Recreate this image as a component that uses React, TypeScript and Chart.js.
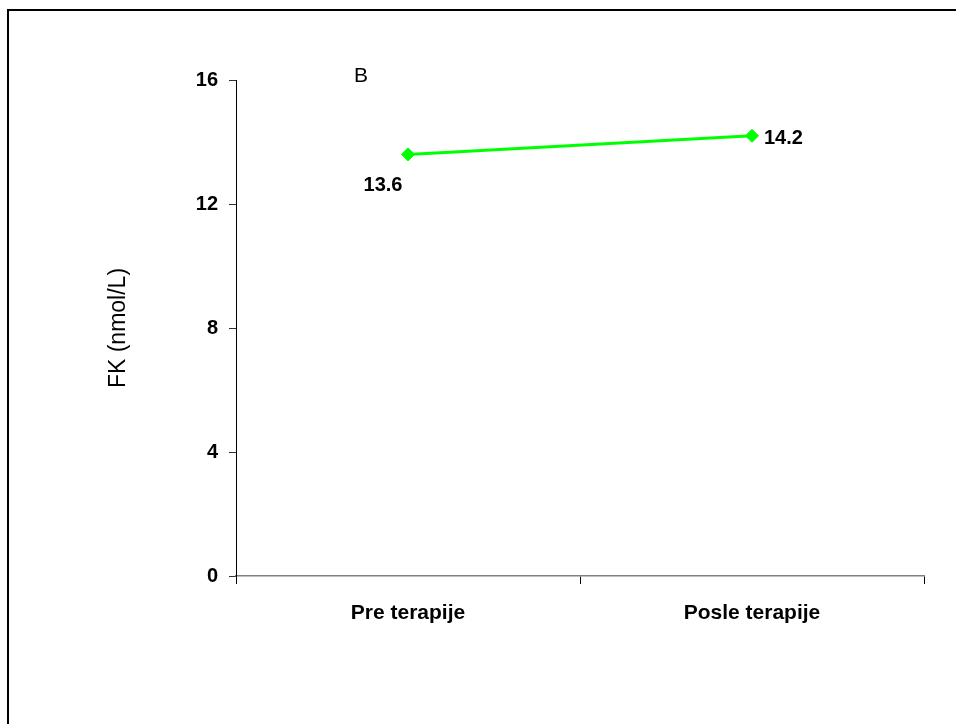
import React, { useEffect, useRef } from "react";
import { Chart, registerables } from "chart.js";

Chart.register(...registerables);

const categories = ["Pre terapije", "Posle terapije"];
const fkValues = [13.6, 14.2];
const valueLabels = ["13.6", "14.2"];
const yTicks = [0, 4, 8, 12, 16];
const yTitle = "FK (nmol/L)";
const panelLetter = "B";

const FONT = "'Liberation Sans', Arial, sans-serif";
const GREEN = "#00FF00";

const labelPlugin = {
  id: "valueLabels",
  afterDatasetsDraw(chart: any) {
    const ctx = chart.ctx;
    const meta = chart.getDatasetMeta(0);
    ctx.save();
    ctx.fillStyle = "#000";
    ctx.font = `bold 20px ${FONT}`;
    ctx.textBaseline = "middle";
    meta.data.forEach((pt: any, i: number) => {
      if (i === 0) {
        ctx.textAlign = "center";
        ctx.fillText(valueLabels[i], pt.x - 25, pt.y + 31);
      } else {
        ctx.textAlign = "left";
        ctx.fillText(valueLabels[i], pt.x + 12, pt.y + 3);
      }
    });
    const ca = chart.chartArea;
    ctx.font = `21px ${FONT}`;
    ctx.textAlign = "center";
    ctx.fillText(panelLetter, ca.left + 125, ca.top - 4);
    ctx.restore();
  },
};

export default function App() {
  const ref = useRef<HTMLCanvasElement | null>(null);

  useEffect(() => {
    document.documentElement.style.overflow = "hidden";
    document.body.style.overflow = "hidden";
    const canvas = ref.current;
    if (!canvas) return;
    const chart = new Chart(canvas, {
      type: "line",
      data: {
        labels: categories,
        datasets: [
          {
            data: fkValues,
            borderColor: GREEN,
            backgroundColor: GREEN,
            borderWidth: 3,
            pointStyle: "rectRot",
            pointRadius: 6.5,
            pointBorderWidth: 1,
            pointBackgroundColor: GREEN,
            pointBorderColor: GREEN,
            tension: 0,
          },
        ],
      },
      options: {
        animation: false,
        responsive: false,
        maintainAspectRatio: false,
        events: [],
        layout: { padding: { left: 105, top: 80, right: 32, bottom: 88 } },
        plugins: {
          legend: { display: false },
          tooltip: { enabled: false },
          title: { display: false },
        },
        scales: {
          x: {
            type: "category",
            offset: true,
            afterFit: (s: any) => {
              s.height = 60;
            },
            grid: {
              offset: true,
              drawOnChartArea: false,
              drawTicks: true,
              tickLength: 8,
              color: "#000",
              lineWidth: 1,
            },
            border: { display: true, color: "#808080", width: 1.5 },
            ticks: {
              color: "#000",
              font: { family: FONT, size: 21, weight: "bold" },
              padding: 17,
              maxRotation: 0,
            },
          },
          y: {
            min: 0,
            max: 16,
            afterFit: (s: any) => {
              s.width = 131;
            },
            afterBuildTicks: (s: any) => {
              s.ticks = yTicks.map((v) => ({ value: v }));
            },
            grid: {
              drawOnChartArea: false,
              drawTicks: true,
              tickLength: 7,
              color: "#333",
              lineWidth: 1,
            },
            border: { display: true, color: "#000", width: 1 },
            ticks: {
              color: "#000",
              font: { family: FONT, size: 20, weight: "bold" },
              padding: 11,
              stepSize: 4,
            },
            title: {
              display: true,
              text: yTitle,
              color: "#000",
              font: { family: FONT, size: 23, weight: "normal" },
              padding: 0,
            },
          },
        },
      },
      plugins: [labelPlugin],
    });
    return () => chart.destroy();
  }, []);

  return (
    <div
      style={{
        position: "fixed",
        left: 0,
        top: 0,
        width: 956,
        height: 724,
        overflow: "hidden",
        background: "#fff",
      }}
    >
      <div
        style={{
          position: "absolute",
          left: 7,
          top: 9,
          width: 2000,
          height: 2000,
          borderTop: "2px solid #000",
          borderLeft: "2px solid #000",
        }}
      />
      <canvas
        ref={ref}
        width={956}
        height={724}
        style={{ position: "absolute", left: 0, top: 0, width: 956, height: 724 }}
      />
    </div>
  );
}
